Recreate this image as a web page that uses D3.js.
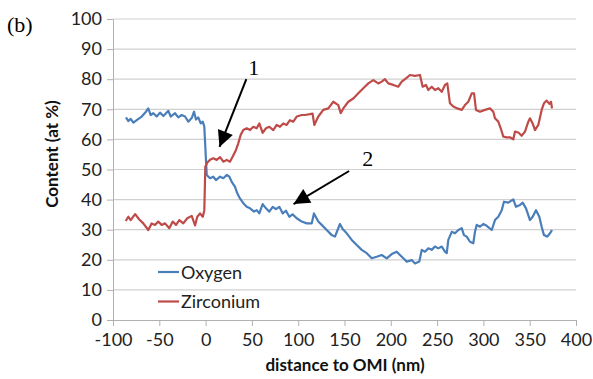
<!DOCTYPE html>
<html>
<head>
<meta charset="utf-8">
<script src="https://cdn.jsdelivr.net/npm/d3@7"></script>
<style>
  body { margin:0; background:#fff; }
  text { font-family: Lato, "Open Sans", sans-serif; }
</style>
</head>
<body>
<div id="chart-area"></div>
<script>
//Data
var oxygenX = [-86,-83.4,-80.9,-78,-74.4,-69,-64.4,-61.9,-59.3,-56.4,-52.8,-49.2,-45.6,-40.2,-37.7,-33,-29.5,-25.8,-22.2,-18.7,-15,-12.5,-10.4,-7.9,-5.3,-3,-1.4,1.2,4.8,8.3,11.2,15.6,19.2,22.8,25.7,28.2,31.7,34.2,37.1,40.7,44.4,48,52.3,55.2,58,61.6,65.2,68.8,72.5,76,79.6,83.3,86.8,90.4,94,98.4,103.8,109.2,114.6,117,121.7,125.4,130.8,136.2,139.7,145.1,148,152.4,157.8,163.2,168.6,174,179.4,184.8,190.2,195.6,201,206.4,209.9,213.5,217.2,222.6,226.1,230.8,233.4,236.9,240.5,244.2,247.7,251.3,255,258.5,260.4,262.1,265.8,269.3,272.9,276.6,279,282,285.5,289.1,290.9,292.8,296.3,299.9,303.6,309,312.5,316.1,319.8,322.2,326.9,332.3,335.2,339.5,342.4,346,350.3,353.2,356.8,360.4,362.9,365.4,369,371.9,374.1];
var oxygenY = [67.3,66.1,66.8,65.6,66.4,67.6,69.2,70.3,68.1,68.7,67.6,68.9,67.8,69.5,67.6,68.7,67.3,68.1,67.6,65.9,67.1,69.2,66.6,67.3,65.3,65.9,64.2,48.2,47.1,47.6,46.5,47.6,47.1,48.2,47.6,45.9,44.3,42.1,40.4,38.8,37.6,37.1,36,36.5,35.4,38.5,37.1,36,37.6,36.8,37.6,35.4,36.3,34.3,35.1,33.8,32.7,32.1,32.1,35.4,32.7,31.6,29.9,28.2,27.7,31.9,30.2,28.8,26.6,24.9,23.3,22.2,20.5,21,21.6,20.5,21.9,22.7,21.6,20.5,19.4,19.9,18.8,19.4,23.3,22.7,23.8,23.3,24.4,23.8,24.4,22.7,22.2,26.6,29.3,28.8,29.9,30.5,28.2,27.7,26,25.5,29.3,31.6,31,31.9,31.3,29.9,33.2,34.3,36.5,39.3,39,40.1,37.6,38.2,39,37.1,33.2,34.3,36.5,34.3,31,28.2,27.7,28.8,29.9];
var zirconiumX = [-86.3,-83.4,-80.9,-76.2,-71.6,-67.3,-61.9,-58.2,-54.6,-51.1,-47.5,-43.8,-39.2,-35.5,-31.9,-28.4,-24.1,-19.8,-15,-11.4,-9,-6,-3,-1.4,-0.3,1.8,4.8,8.3,12,15.6,19.2,22.8,26.3,29.3,32.8,35.3,37.9,40.7,44.4,48,51.5,55.2,58,61.6,65.2,68.8,73.1,76.8,80.3,83.9,87.5,91.1,94.7,98.4,103.8,107.3,112.7,115.5,117.4,121.7,127.1,132.5,137.9,143.3,145.9,148.7,154.1,159.5,164.9,170.3,175.7,181.1,186.5,190.2,193.7,197.3,202.7,208.1,211.8,216.4,220.7,226.1,231.5,234.4,238,240.5,244.2,247.7,251.3,255,258.5,261,263.9,267.5,271.8,276.6,280.1,283.7,287.4,289.9,292,296.3,301.7,307.1,310.7,312.5,316.1,318.7,321.5,325.1,328.7,332.3,334.1,337.7,341.3,344.9,348.5,350.3,353.2,355.7,359.3,362.9,365.4,368.3,371.2,373,374.1];
var zirconiumY = [32.9,34.3,33.2,35.2,33.4,32.1,29.9,32.1,31.6,32.7,31.6,32.1,30.5,32.7,31.6,33.2,32.1,33.8,34.6,31.4,34.3,35.4,34.3,36.5,50.9,52.3,53.2,53.7,53.2,54.1,52.6,53.2,52.6,54.3,56.5,58.7,61.5,63.1,63.7,63.1,64.2,63.7,65.3,62.2,63.7,64.2,63.1,64.8,64.2,65.3,64.8,66.4,65.9,67.6,68.1,68.1,68.4,68.6,64.8,67.6,69.8,70.3,72.5,71.4,68.7,70.3,72.5,73.6,75.3,77,78.6,79.7,78.6,79.2,80,78.6,78.1,77.5,79.2,80.3,81.4,81.1,81.4,77.5,78.1,76.4,77.5,76.4,77,75.8,78.1,78.6,72,70.9,70.3,69.8,71.4,72.5,75.3,75.3,69.8,69.2,69.8,70.3,69.2,67,65.9,63.7,60.9,60.7,60.7,60,62.6,62.3,61.2,62.6,65.9,67,65.3,63.1,64.8,69.8,72,72.9,71.8,72.5,70.3];
var seriesNames = ["Oxygen", "Zirconium"];
var xTicks = [-100,-50,0,50,100,150,200,250,300,350,400];
var yTicks = [0,10,20,30,40,50,60,70,80,90,100];
// annotations: label and its spot, arrow tail, arrow tip (data units)
var notes = [
    { label:"1", at:[52, 81.5], tail:[44, 80], tip:[15, 57.5] },
    { label:"2", at:[175, 51], tail:[155, 49.5], tip:[95, 38.5] }
];

//Margin
var margin = { left:113, right:17, top:19, bottom:59 },
    width = 593 - margin.left - margin.right,
    height = 379 - margin.top - margin.bottom;

var svg = d3.select("#chart-area").append("svg")
    .attr("width", 593)
    .attr("height", 379);
var g = svg.append("g")
    .attr("transform", "translate("+margin.left+","+margin.top+")");

//Scales
var x = d3.scaleLinear().domain([-100, 400]).range([0, width]);
var y = d3.scaleLinear().domain([0, 100]).range([height, 0]);
var color = d3.scaleOrdinal().domain(seriesNames).range(["#4A7EBB", "#BE4B48"]);

//Gridlines
g.selectAll(".grid").data(yTicks.slice(1)).enter().append("line")
    .attr("x1", 0).attr("x2", width)
    .attr("y1", d => y(d)).attr("y2", d => y(d))
    .attr("stroke", "#D0D0D0").attr("stroke-width", 1.2);

//Axes (plain hyphen for negatives, like the original)
var xAxis = g.append("g")
    .attr("transform", "translate(0,"+height+")")
    .call(d3.axisBottom(x).tickValues(xTicks).tickFormat(d => String(d))
        .tickSize(6).tickPadding(6).tickSizeOuter(0));
var yAxis = g.append("g")
    .call(d3.axisLeft(y).tickValues(yTicks).tickFormat(d => String(d))
        .tickSize(6).tickPadding(5).tickSizeOuter(0));
[xAxis, yAxis].forEach(a => {
    a.select(".domain").attr("stroke", "#B0B0B0");
    a.selectAll(".tick line").attr("stroke", "#B0B0B0");
    a.selectAll("text").attr("font-size", 18).attr("fill", "#222")
        .style("font-family", "Lato, sans-serif");
});
xAxis.selectAll("text").attr("dy", "0.78em");

//Axis titles
svg.append("text")
    .attr("x", 345).attr("y", 371)
    .attr("text-anchor", "middle")
    .attr("font-size", 17).attr("font-weight", "bold").attr("fill", "#111")
    .text("distance to OMI (nm)");
svg.append("text")
    .attr("transform", "translate(58,154) rotate(-90)")
    .attr("text-anchor", "middle")
    .attr("font-size", 17).attr("font-weight", "bold").attr("fill", "#111")
    .text("Content (at %)");

//Panel label
svg.append("text")
    .attr("x", 7).attr("y", 32)
    .style("font-family", "'Liberation Serif', serif")
    .attr("font-size", 22)
    .text("(b)");

//Lines
var line = d3.line()
    .x(d => x(d[0]))
    .y(d => y(d[1]));
var series = [
    { name:"Oxygen", values: d3.zip(oxygenX, oxygenY) },
    { name:"Zirconium", values: d3.zip(zirconiumX, zirconiumY) }
];
g.selectAll(".line").data(series).enter().append("path")
    .attr("class", "line")
    .attr("fill", "none")
    .attr("stroke", d => color(d.name))
    .attr("stroke-width", 2.2)
    .attr("stroke-linejoin", "round")
    .attr("d", d => line(d.values));

//Legend
var legend = svg.append("g").attr("transform", "translate(158,272)");
seriesNames.forEach((name, i) => {
    var row = legend.append("g").attr("transform", "translate(0,"+(i*29.5)+")");
    row.append("line").attr("x1", 0).attr("x2", 21)
        .attr("stroke", color(name)).attr("stroke-width", 2.2);
    row.append("text").attr("x", 23).attr("y", 6.5)
        .attr("font-size", 18).attr("fill", "#222")
        .text(name);
});

//Annotations with arrows
svg.append("defs").append("marker")
    .attr("id", "arrow")
    .attr("viewBox", "0 0 10 10")
    .attr("refX", 10).attr("refY", 5)
    .attr("markerWidth", 9).attr("markerHeight", 8)
    .attr("markerUnits", "strokeWidth")
    .attr("orient", "auto")
    .append("path").attr("d", "M0,0L10,5L0,10Z").attr("fill", "#000");

notes.forEach(n => {
    g.append("line")
        .attr("x1", x(n.tail[0])).attr("y1", y(n.tail[1]))
        .attr("x2", x(n.tip[0])).attr("y2", y(n.tip[1]))
        .attr("stroke", "#000").attr("stroke-width", 2)
        .attr("marker-end", "url(#arrow)");
    g.append("text")
        .attr("x", x(n.at[0])).attr("y", y(n.at[1]))
        .style("font-family", "'Liberation Serif', serif")
        .attr("font-size", 22).attr("text-anchor", "middle")
        .text(n.label);
});
</script>
</body>
</html>
